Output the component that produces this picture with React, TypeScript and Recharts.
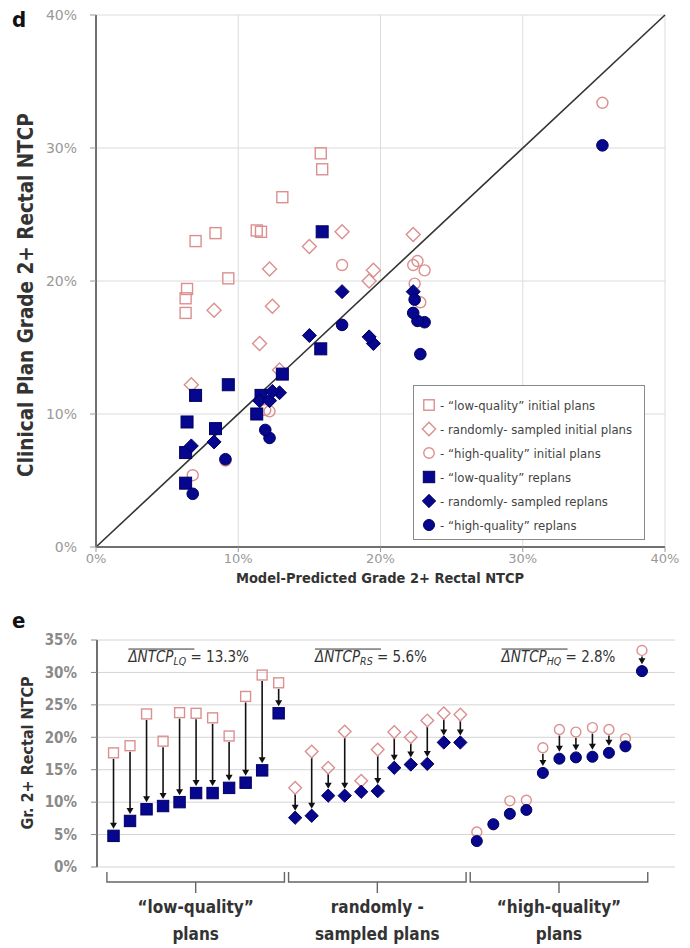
import { ScatterChart, Scatter, XAxis, YAxis, CartesianGrid, ReferenceLine, ReferenceDot } from 'recharts';

// values in %, in the left-to-right order of panel e
const lqModel = [6.3, 6.3, 8.4, 6.4, 11.3, 11.6, 7.0, 9.3, 13.1, 15.8, 15.9];
const lqInitial = [17.6, 18.7, 23.6, 19.4, 23.8, 23.7, 23.0, 20.2, 26.3, 29.6, 28.4];
const lqReplan = [4.8, 7.1, 8.9, 9.4, 10.0, 11.4, 11.4, 12.2, 13.0, 14.9, 23.7];

const rsModel = [6.7, 8.3, 11.5, 12.2, 12.9, 12.4, 19.5, 19.2, 15.0, 17.3, 22.3];
const rsInitial = [12.2, 17.8, 15.3, 20.9, 13.3, 18.1, 20.8, 20.0, 22.6, 23.7, 23.5];
const rsReplan = [7.6, 7.9, 11.0, 11.0, 11.6, 11.7, 15.3, 15.8, 15.9, 19.2, 19.2];

const hqModel = [6.8, 9.1, 12.2, 11.9, 22.8, 17.3, 23.1, 22.6, 22.3, 22.4, 35.6];
const hqInitial = [5.4, 6.5, 10.2, 10.3, 18.4, 21.2, 20.8, 21.5, 21.2, 19.8, 33.4];
const hqReplan = [4.0, 6.6, 8.2, 8.8, 14.5, 16.7, 16.9, 17.0, 17.6, 18.6, 30.2];

const axisTicksD = [0, 10, 20, 30, 40];
const axisTicksE = [0, 5, 10, 15, 20, 25, 30, 35];

const groupKinds = ['square', 'diamond', 'circle'];
const groupLabels = [['\u201clow-quality\u201d', 'plans'], ['randomly -', 'sampled plans'], ['\u201chigh-quality\u201d', 'plans']];
const groupSubs = ['LQ', 'RS', 'HQ'];
const groupMeans = ['13.3%', '5.6%', '2.8%'];

const legendItems = [
  { kind: 'square', filled: false, label: '- \u201clow-quality\u201d initial plans' },
  { kind: 'diamond', filled: false, label: '- randomly- sampled initial plans' },
  { kind: 'circle', filled: false, label: '- \u201chigh-quality\u201d initial plans' },
  { kind: 'square', filled: true, label: '- \u201clow-quality\u201d replans' },
  { kind: 'diamond', filled: true, label: '- randomly- sampled replans' },
  { kind: 'circle', filled: true, label: '- \u201chigh-quality\u201d replans' },
];

const FONT = "'DejaVu Sans Condensed', 'Liberation Sans Narrow', 'DejaVu Sans', sans-serif";
const TICK_FONT = "'DejaVu Sans', sans-serif";
const PINK = '#dc8f8f';
const BLUE = '#06068f';
const BLUE_EDGE = '#000060';

const pct = (v: number) => `${v}%`;

function Mark({ cx, cy, kind, filled, s = 1 }: any) {
  if (cx == null || cy == null) return null;
  const fill = filled ? BLUE : 'none';
  const stroke = filled ? BLUE_EDGE : PINK;
  const sw = filled ? 1 : 1.4;
  if (kind === 'square') {
    const h = (filled ? 6 : 5.5) * s;
    return <rect x={cx - h} y={cy - h} width={2 * h} height={2 * h} fill={fill} stroke={stroke} strokeWidth={sw} />;
  }
  if (kind === 'diamond') {
    const h = 7 * s;
    return <polygon points={`${cx},${cy - h} ${cx + h},${cy} ${cx},${cy + h} ${cx - h},${cy}`} fill={fill} stroke={stroke} strokeWidth={sw} />;
  }
  return <circle cx={cx} cy={cy} r={(filled ? 5.8 : 5.5) * s} fill={fill} stroke={stroke} strokeWidth={sw} />;
}

const pairs = (xs: number[], ys: number[]) => xs.map((x, i) => ({ x, y: ys[i] }));

const dSeries = [
  { data: pairs(lqModel, lqInitial), kind: 'square', filled: false },
  { data: pairs(rsModel, rsInitial), kind: 'diamond', filled: false },
  { data: pairs(hqModel, hqInitial), kind: 'circle', filled: false },
  { data: pairs(lqModel, lqReplan), kind: 'square', filled: true },
  { data: pairs(rsModel, rsReplan), kind: 'diamond', filled: true },
  { data: pairs(hqModel, hqReplan), kind: 'circle', filled: true },
];

const groupsE = [
  { initial: lqInitial, replan: lqReplan },
  { initial: rsInitial, replan: rsReplan },
  { initial: hqInitial, replan: hqReplan },
];

function LegendBox() {
  return (
    <div style={{ position: 'absolute', left: 413, top: 385, border: '1.5px solid #8a8a8a', background: '#fff', width: 232, height: 155, boxSizing: 'border-box', padding: '7px 0 0 6px', fontFamily: FONT, fontSize: 13, color: '#444' }}>
      {legendItems.map((it, i) => (
        <div key={i} style={{ height: 24, display: 'flex', alignItems: 'center' }}>
          <svg width={18} height={18} style={{ marginRight: 2 }}>
            <Mark cx={9} cy={9} kind={it.kind} filled={it.filled} s={0.95} />
          </svg>
          <span>{it.label}</span>
        </div>
      ))}
    </div>
  );
}

function PanelD() {
  return (
    <ScatterChart width={690} height={600} margin={{ top: 15, right: 25, bottom: 23, left: 40 }}>
      <CartesianGrid stroke="#dcdcdc" strokeWidth={1} />
      <XAxis type="number" dataKey="x" domain={[0, 40]} ticks={axisTicksD} tickFormatter={pct} height={30}
        tick={{ fill: '#999', fontSize: 13, fontFamily: TICK_FONT }} axisLine={{ stroke: '#707070', strokeWidth: 2 }}
        tickLine={{ stroke: '#999' }} tickSize={5} />
      <YAxis type="number" dataKey="y" domain={[0, 40]} ticks={axisTicksD} tickFormatter={pct} width={56}
        tick={{ fill: '#999', fontSize: 14, fontFamily: TICK_FONT }} axisLine={{ stroke: '#707070', strokeWidth: 2 }}
        tickLine={{ stroke: '#999' }} tickSize={6} tickMargin={13} />
      {dSeries.map((s, i) => (
        <Scatter key={i} data={s.data} isAnimationActive={false}
          shape={(p: any) => <Mark cx={p.cx} cy={p.cy} kind={s.kind} filled={s.filled} />} />
      ))}
      <ReferenceLine segment={[{ x: 0, y: 0 }, { x: 40, y: 40 }]} stroke="#333" strokeWidth={1.6} ifOverflow="visible" />
      <text x={12} y={27} fontFamily={FONT} fontSize={22} fontWeight="bold" fill="#111">d</text>
      <text x={27} y={295} transform="rotate(-90 27 295)" textAnchor="middle" dominantBaseline="middle"
        fontFamily={FONT} fontSize={20.5} fontWeight="bold" fill="#333">Clinical Plan Grade 2+ Rectal NTCP</text>
      <text x={380} y={583} textAnchor="middle" fontFamily={FONT} fontSize={14.5} fontWeight="bold" fill="#333">Model-Predicted Grade 2+ Rectal NTCP</text>
    </ScatterChart>
  );
}

function Arrow(p: any) {
  const { x1, y1, y2 } = p;
  const start = y1 + 6;
  const end = y2 - 7;
  if (end - start < 6) return <g />;
  return (
    <g>
      <line x1={x1} y1={start} x2={x1} y2={end - 5} stroke="#111" strokeWidth={1.6} />
      <polygon points={`${x1},${end} ${x1 - 3.5},${end - 6} ${x1 + 3.5},${end - 6}`} fill="#111" />
    </g>
  );
}

function Bracket(p: any, lines: string[]) {
  const { x1, x2, y1 } = p;
  const mid = (x1 + x2) / 2;
  const top = y1 + 5;
  const bot = y1 + 15;
  return (
    <g>
      <path d={`M${x1},${top} L${x1},${bot} L${x2},${bot} L${x2},${top} M${mid},${bot} L${mid},${y1 + 26}`} fill="none" stroke="#666" strokeWidth={1.4} />
      <text x={mid} y={y1 + 46} textAnchor="middle" fontFamily={FONT} fontSize={17} fontWeight="bold" fill="#333">{lines[0]}</text>
      <text x={mid} y={y1 + 73} textAnchor="middle" fontFamily={FONT} fontSize={17} fontWeight="bold" fill="#333">{lines[1]}</text>
    </g>
  );
}

function MeanLabel(p: any, sub: string, mean: string) {
  const { cx, cy } = p;
  return (
    <g>
      <line x1={cx} y1={cy - 13} x2={cx + 66} y2={cy - 13} stroke="#333" strokeWidth={1} />
      <text x={cx} y={cy} fontFamily={FONT} fontSize={15} fill="#333">
        <tspan fontStyle="italic">{'\u0394NTCP'}</tspan>
        <tspan fontStyle="italic" fontSize={10.5} dy={3}>{sub}</tspan>
        <tspan dy={-3}>{` = ${mean}`}</tspan>
      </text>
    </g>
  );
}

function PanelE() {
  const init: any[] = [];
  const rep: any[] = [];
  groupsE.forEach((g, gi) => {
    g.initial.forEach((v, i) => {
      const x = gi * 11 + i;
      init.push({ x, y: v, gi });
      rep.push({ x, y: g.replan[i], gi });
    });
  });
  return (
    <ScatterChart width={690} height={348} margin={{ top: 40, right: 15, bottom: 81, left: 40 }}>
      <CartesianGrid vertical={false} stroke="#d4d4d4" strokeWidth={1} />
      <XAxis type="number" dataKey="x" domain={[-1, 34]} ticks={[]} tick={false} tickLine={false}
        axisLine={{ stroke: '#707070', strokeWidth: 2 }} height={0} />
      <YAxis type="number" dataKey="y" domain={[0, 35]} ticks={axisTicksE} tickFormatter={pct} width={57}
        tick={{ fill: '#8a8a8a', fontSize: 15, fontWeight: 'bold', fontFamily: FONT }} axisLine={{ stroke: '#707070', strokeWidth: 2 }}
        tickLine={{ stroke: '#888' }} tickSize={6} tickMargin={14} />
      {init.map((d, i) => (
        <ReferenceLine key={`a${i}`} segment={[{ x: d.x, y: d.y }, { x: d.x, y: rep[i].y }]} ifOverflow="visible" shape={Arrow} />
      ))}
      {groupKinds.map((k, gi) => (
        <Scatter key={`i${gi}`} data={init.filter((d) => d.gi === gi)} isAnimationActive={false}
          shape={(p: any) => <Mark cx={p.cx} cy={p.cy} kind={k} filled={false} s={0.9} />} />
      ))}
      {groupKinds.map((k, gi) => (
        <Scatter key={`r${gi}`} data={rep.filter((d) => d.gi === gi)} isAnimationActive={false}
          shape={(p: any) => <Mark cx={p.cx} cy={p.cy} kind={k} filled={true} s={0.95} />} />
      ))}
      {groupLabels.map((lines, gi) => (
        <ReferenceLine key={`b${gi}`} segment={[{ x: gi * 11 - 0.4, y: 0 }, { x: gi * 11 + 10.35, y: 0 }]} ifOverflow="visible"
          shape={(p: any) => Bracket(p, lines)} />
      ))}
      {groupSubs.map((sub, gi) => (
        <ReferenceDot key={`m${gi}`} x={gi * 11 + 0.9 + gi * 0.3} y={31.6} r={0} ifOverflow="visible"
          shape={(p: any) => MeanLabel(p, sub, groupMeans[gi])} />
      ))}
      <text x={12} y={28} fontFamily={FONT} fontSize={22} fontWeight="bold" fill="#111">e</text>
      <text x={28} y={153} transform="rotate(-90 28 153)" textAnchor="middle" dominantBaseline="middle"
        fontFamily={FONT} fontSize={16} fontWeight="bold" fill="#333">Gr. 2+ Rectal NTCP</text>
    </ScatterChart>
  );
}

export default function App() {
  return (
    <div style={{ position: 'absolute', left: 0, top: 0, width: 690, height: 948, background: '#fff' }}>
      <PanelD />
      <LegendBox />
      <PanelE />
    </div>
  );
}
